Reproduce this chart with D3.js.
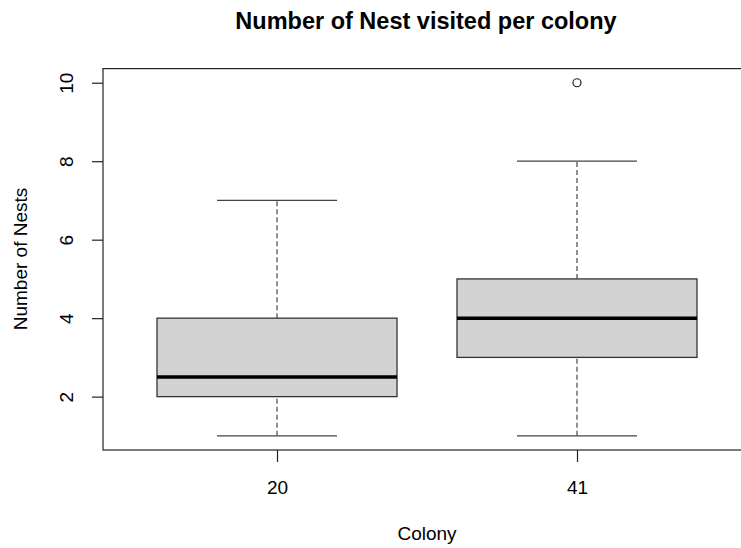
<!DOCTYPE html>
<html>
<head>
<meta charset="utf-8">
<script src="https://cdn.jsdelivr.net/npm/d3@7"></script>
<style>
  html, body { margin: 0; padding: 0; background: #fff; }
  text { font-family: "Liberation Sans", Arial, sans-serif; fill: #000; }
</style>
</head>
<body>
<svg id="chart" width="741" height="548"></svg>
<script>
// Colony groups and their box-plot statistics
const colonies = ["20", "41"];
const lowerWhisker = [1, 1];
const q1 = [2, 3];
const median = [2.5, 4];
const q3 = [4, 5];
const upperWhisker = [7, 8];
const outliers = [[], [10]];
const yTicks = [2, 4, 6, 8, 10];

const svg = d3.select("#chart");

const plotLeft = 103, plotRight = 751, plotTop = 68.6, plotBottom = 450;
const x = d3.scaleLinear().domain([0.42, 2.58]).range([plotLeft, plotRight]);
const y = d3.scaleLinear().domain([0.64, 10.36]).range([plotBottom, plotTop]);

const boxHalf = 0.4, stapleHalf = 0.2;
const labelSize = "19px";

const groups = colonies.map((c, i) => ({
  name: c, pos: i + 1,
  lo: lowerWhisker[i], q1: q1[i], med: median[i], q3: q3[i], hi: upperWhisker[i],
  out: outliers[i]
}));

const g = svg.append("g");

// whiskers (dashed)
g.selectAll(".wlow").data(groups).join("line")
  .attr("x1", d => x(d.pos)).attr("x2", d => x(d.pos))
  .attr("y1", d => y(d.lo)).attr("y2", d => y(d.q1))
  .attr("stroke", "#555").attr("stroke-width", 1.3).attr("stroke-dasharray", "5,3");
g.selectAll(".whigh").data(groups).join("line")
  .attr("x1", d => x(d.pos)).attr("x2", d => x(d.pos))
  .attr("y1", d => y(d.q3)).attr("y2", d => y(d.hi))
  .attr("stroke", "#555").attr("stroke-width", 1.3).attr("stroke-dasharray", "5,3");

// staples
["lo", "hi"].forEach(k => {
  g.selectAll(".staple-" + k).data(groups).join("line")
    .attr("x1", d => x(d.pos - stapleHalf)).attr("x2", d => x(d.pos + stapleHalf))
    .attr("y1", d => y(d[k])).attr("y2", d => y(d[k]))
    .attr("stroke", "#444").attr("stroke-width", 1.3);
});

// boxes
g.selectAll(".box").data(groups).join("rect")
  .attr("x", d => x(d.pos - boxHalf))
  .attr("width", d => x(d.pos + boxHalf) - x(d.pos - boxHalf))
  .attr("y", d => y(d.q3))
  .attr("height", d => y(d.q1) - y(d.q3))
  .attr("fill", "#d3d3d3").attr("stroke", "#333").attr("stroke-width", 1.3);

// medians
g.selectAll(".med").data(groups).join("line")
  .attr("x1", d => x(d.pos - boxHalf)).attr("x2", d => x(d.pos + boxHalf))
  .attr("y1", d => y(d.med)).attr("y2", d => y(d.med))
  .attr("stroke", "#000").attr("stroke-width", 3.5);

// outliers
g.selectAll(".out").data(groups.flatMap(d => d.out.map(v => ({pos: d.pos, v}))))
  .join("circle")
  .attr("cx", d => x(d.pos)).attr("cy", d => y(d.v)).attr("r", 4)
  .attr("fill", "none").attr("stroke", "#222").attr("stroke-width", 1.2);

// plot frame
svg.append("rect")
  .attr("x", plotLeft).attr("y", plotTop)
  .attr("width", plotRight - plotLeft).attr("height", plotBottom - plotTop)
  .attr("fill", "none").attr("stroke", "#222").attr("stroke-width", 1.2);

// y axis
const yAxis = svg.append("g").attr("transform", `translate(${plotLeft},0)`)
  .call(d3.axisLeft(y).tickValues(yTicks).tickSize(11).tickFormat(d3.format("d")));
yAxis.select(".domain").remove();
yAxis.selectAll(".tick line").attr("stroke", "#222").attr("stroke-width", 1.2);
yAxis.selectAll(".tick text")
  .attr("x", null).attr("dy", null)
  .attr("text-anchor", "middle")
  .attr("transform", "translate(-37,0) rotate(-90)")
  .attr("dy", "0.35em")
  .style("font-size", labelSize);

// x axis
const xAxis = svg.append("g").attr("transform", `translate(0,${plotBottom})`)
  .call(d3.axisBottom(x).tickValues(groups.map(d => d.pos)).tickSize(12)
    .tickFormat((d, i) => colonies[i]));
xAxis.select(".domain").remove();
xAxis.selectAll(".tick line").attr("stroke", "#222").attr("stroke-width", 1.2);
xAxis.selectAll(".tick text").attr("y", null).attr("dy", null)
  .attr("y", 44).style("font-size", labelSize);

// titles
svg.append("text").attr("x", 426).attr("y", 29).attr("text-anchor", "middle")
  .style("font-size", "23.5px").style("font-weight", "bold")
  .text("Number of Nest visited per colony");
svg.append("text").attr("x", 427).attr("y", 540).attr("text-anchor", "middle")
  .style("font-size", labelSize).text("Colony");
svg.append("text").attr("transform", "translate(27,259) rotate(-90)")
  .attr("text-anchor", "middle").style("font-size", labelSize)
  .text("Number of Nests");
</script>
</body>
</html>
